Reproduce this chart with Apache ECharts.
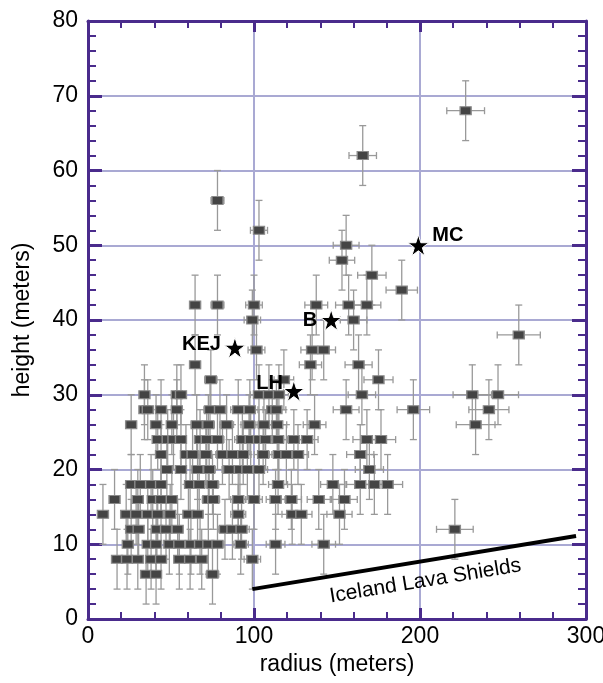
<!DOCTYPE html>
<html>
<head>
<meta charset="utf-8">
<title>radius vs height</title>
<script src="https://cdn.jsdelivr.net/npm/echarts@6/dist/echarts.min.js"></script>
<style>
  html, body { margin: 0; padding: 0; background: #fff; }
  #main { width: 603px; height: 683px; }
</style>
</head>
<body>
<div id="main"></div>
<script>
// measured cones: radius (m) and height (m)
var radius = [
  34, 53.5, 56, 103, 109, 115, 165, 231.5, 247,
  34, 36, 44, 53.5, 73.5, 79.5, 90.5, 97.5, 111, 113.5, 155.5, 196, 241.5,
  26, 41, 50.5, 65.5, 72.5, 83.5, 97, 106, 114, 136.5, 233.5,
  42, 48, 51.5, 56, 67.5, 71.5, 78, 93, 98, 103, 107, 114.5, 124, 132, 168, 176.5,
  44, 59, 63, 71, 81, 87, 93.5, 105.5, 115, 119.5, 126.5, 164,
  47.5, 56, 66, 73, 85, 91.5, 96, 103, 169.5,
  26, 31.5, 38, 44, 61.5, 67, 75, 114.5, 147.5, 164, 172.5, 180.5,
  16, 30, 39, 44, 50.5, 72.5, 75.5, 90.5, 100, 113, 122.5, 139, 154.5,
  9, 23, 29, 36, 42, 49.5, 60.5, 66, 90.5, 123, 128.5, 151.5,
  26, 30.5, 41.5, 47, 54, 82.5, 87, 92.5, 221,
  24, 36, 41, 49, 55, 62, 67.5, 72.5, 78, 92, 113, 142,
  17.5, 23.5, 30, 38, 44, 55, 61.5, 68.5, 99,
  35, 41, 75,
  64.5, 74, 118, 175, 134, 163, 101.5, 135, 142, 99, 160, 64.5, 78, 100, 137.5, 157, 168, 189,
  171, 153, 155.5, 103, 78, 165.5, 227.5, 259.5
];
var height = [
  30, 30, 30, 30, 30, 30, 30, 30, 30,
  28, 28, 28, 28, 28, 28, 28, 28, 28, 28, 28, 28, 28,
  26, 26, 26, 26, 26, 26, 26, 26, 26, 26, 26,
  24, 24, 24, 24, 24, 24, 24, 24, 24, 24, 24, 24, 24, 24, 24, 24,
  22, 22, 22, 22, 22, 22, 22, 22, 22, 22, 22, 22,
  20, 20, 20, 20, 20, 20, 20, 20, 20,
  18, 18, 18, 18, 18, 18, 18, 18, 18, 18, 18, 18,
  16, 16, 16, 16, 16, 16, 16, 16, 16, 16, 16, 16, 16,
  14, 14, 14, 14, 14, 14, 14, 14, 14, 14, 14, 14,
  12, 12, 12, 12, 12, 12, 12, 12, 12,
  10, 10, 10, 10, 10, 10, 10, 10, 10, 10, 10, 10,
  8, 8, 8, 8, 8, 8, 8, 8, 8,
  6, 6, 6,
  34, 32, 32, 32, 34, 34, 36, 36, 36, 40, 40, 42, 42, 42, 42, 42, 42, 44,
  46, 48, 50, 52, 56, 62, 68, 38
];
// error bars
var heightErr = 4;
var radiusErrFrac = 0.05;

// named features (stars)
var starNames = ['MC', 'B', 'KEJ', 'LH'];
var starRadius = [199, 146.5, 88.5, 124];
var starHeight = [50, 40, 36.3, 30.5];

// Iceland lava shields trend line
var shieldRadius = [99, 294];
var shieldHeight = [4, 11.1];

var frameColor = '#4a2b8c';
var gridColor = '#a9a9d3';
var fontFam = '"Liberation Sans", Arial, sans-serif';

var points = [];
for (var i = 0; i < radius.length; i++) points.push([radius[i], height[i]]);

var stars = [];
var starLabelPos = {
  MC: { position: 'right', offset: [0, -10] },
  B: { position: 'left', offset: [0, 0] },
  KEJ: { position: 'left', offset: [0, -3] },
  LH: { position: 'left', offset: [3, -8] }
};
for (var j = 0; j < starNames.length; j++) {
  stars.push({
    name: starNames[j],
    value: [starRadius[j], starHeight[j]],
    label: starLabelPos[starNames[j]]
  });
}

var shieldLine = [];
for (var k = 0; k < shieldRadius.length; k++) shieldLine.push([shieldRadius[k], shieldHeight[k]]);

var starPath = 'path://M50,0 L61.8,36.2 L100,36.2 L69.1,58.8 L80.9,95.1 L50,72.6 L19.1,95.1 L30.9,58.8 L0,36.2 L38.2,36.2 Z';

function errorBars(params, api) {
  var x = api.value(0), y = api.value(1);
  var dx = x * radiusErrFrac;
  var l = api.coord([x - dx, y]), r = api.coord([x + dx, y]);
  var t = api.coord([x, y + heightErr]), b = api.coord([x, y - heightErr]);
  var cap = 3.5;
  var st = { stroke: '#999', lineWidth: 1.3 };
  return {
    type: 'group',
    children: [
      { type: 'line', shape: { x1: l[0], y1: l[1], x2: r[0], y2: r[1] }, style: st },
      { type: 'line', shape: { x1: t[0], y1: t[1], x2: b[0], y2: b[1] }, style: st },
      { type: 'line', shape: { x1: l[0], y1: l[1] - cap, x2: l[0], y2: l[1] + cap }, style: st },
      { type: 'line', shape: { x1: r[0], y1: r[1] - cap, x2: r[0], y2: r[1] + cap }, style: st },
      { type: 'line', shape: { x1: t[0] - cap, y1: t[1], x2: t[0] + cap, y2: t[1] }, style: st },
      { type: 'line', shape: { x1: b[0] - cap, y1: b[1], x2: b[0] + cap, y2: b[1] }, style: st }
    ]
  };
}

function frameAxis(pos, isX, showLabel) {
  return {
    type: 'value',
    position: pos,
    min: 0,
    max: isX ? 300 : 80,
    interval: isX ? 100 : 10,
    axisLine: { show: true, onZero: false, lineStyle: { color: frameColor, width: 3 } },
    axisTick: { show: true, inside: true, length: isX ? 11 : 14, lineStyle: { color: frameColor, width: 3 } },
    minorTick: { show: true, splitNumber: 5, length: isX ? 7 : 8, lineStyle: { color: frameColor, width: 2 } },
    axisLabel: { show: showLabel, color: '#000', fontSize: 23, fontFamily: fontFam, margin: isX ? 6 : 10 },
    splitLine: { show: false }
  };
}

var xBottom = frameAxis('bottom', true, true);
xBottom.name = 'radius (meters)';
xBottom.nameLocation = 'middle';
xBottom.nameGap = 31;
xBottom.nameTextStyle = { color: '#000', fontSize: 23, fontFamily: fontFam };
xBottom.splitLine = { show: true, lineStyle: { color: gridColor, width: 2 } };

var yLeft = frameAxis('left', false, true);
yLeft.name = 'height (meters)';
yLeft.nameLocation = 'middle';
yLeft.nameGap = 54;
yLeft.nameTextStyle = { color: '#000', fontSize: 23, fontFamily: fontFam };
yLeft.splitLine = { show: true, lineStyle: { color: gridColor, width: 2 } };

var myChart = echarts.init(document.getElementById('main'));

option = {
  animation: false,
  backgroundColor: '#fff',
  grid: { left: 88, right: 17, top: 21, bottom: 64, containLabel: false, outerBoundsMode: 'none' },
  xAxis: [xBottom, frameAxis('top', true, false)],
  yAxis: [yLeft, frameAxis('right', false, false)],
  series: [
    {
      type: 'custom',
      renderItem: errorBars,
      data: points,
      z: 2,
      silent: true
    },
    {
      type: 'scatter',
      data: points,
      symbol: 'rect',
      symbolSize: [11, 8],
      itemStyle: { color: '#444', borderColor: '#8a8a8a', borderWidth: 1.2, opacity: 1 },
      z: 3
    },
    {
      type: 'line',
      data: shieldLine,
      symbol: 'none',
      lineStyle: { color: '#000', width: 4 },
      z: 4
    },
    {
      type: 'scatter',
      data: stars,
      symbol: starPath,
      symbolSize: 21,
      itemStyle: { color: '#000', borderColor: '#fff', borderWidth: 1, opacity: 1 },
      label: {
        show: true,
        formatter: '{b}',
        color: '#000',
        fontSize: 20,
        fontWeight: 'bold',
        fontFamily: fontFam,
        distance: 3
      },
      z: 5
    }
  ]
};

myChart.setOption(option);

// rotated text under the trend line
var p0 = myChart.convertToPixel({ gridIndex: 0 }, shieldLine[0]);
var p1 = myChart.convertToPixel({ gridIndex: 0 }, shieldLine[1]);
var ang = Math.atan2(p0[1] - p1[1], p1[0] - p0[0]);
var mx = (p0[0] + p1[0]) / 2, my = (p0[1] + p1[1]) / 2;
var along = 8, below = 20;
myChart.setOption({
  graphic: [{
    type: 'text',
    x: mx + Math.cos(ang) * along + Math.sin(ang) * below,
    y: my - Math.sin(ang) * along + Math.cos(ang) * below,
    rotation: ang,
    style: {
      text: 'Iceland Lava Shields',
      fill: '#000',
      font: '21px ' + fontFam,
      align: 'center',
      verticalAlign: 'middle'
    },
    z: 10
  }]
});
</script>
</body>
</html>
